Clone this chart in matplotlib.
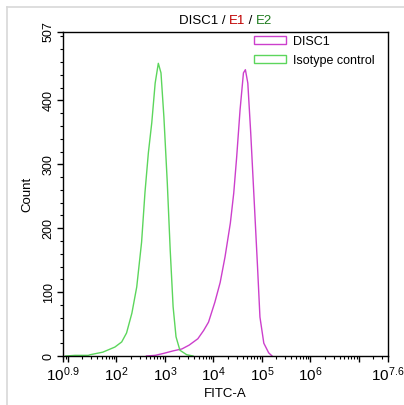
import numpy as np
import matplotlib
matplotlib.use("Agg")
import matplotlib.pyplot as plt
from matplotlib.lines import Line2D
from matplotlib.patches import Patch
from matplotlib.offsetbox import TextArea, HPacker, AnchoredOffsetbox
from matplotlib.ticker import FixedLocator, NullFormatter

plt.rcParams['font.family'] = ['Liberation Sans', 'DejaVu Sans']
plt.rcParams['mathtext.fontset'] = 'custom'
plt.rcParams['mathtext.rm'] = 'Liberation Sans'
plt.rcParams['mathtext.it'] = 'Liberation Sans'

# histogram traces (log10 of FITC-A, count)
iso_log = [0.95, 1.15, 1.42, 1.46, 1.72, 1.97, 2.11, 2.21, 2.32, 2.42, 2.52,
           2.59, 2.66, 2.73, 2.80, 2.865, 2.92, 2.98, 3.05, 3.11, 3.17, 3.23,
           3.31, 3.45, 3.58]
iso_count = [0, 1, 1, 2, 6, 14, 22, 36, 67, 108, 178,
             256, 318, 365, 427, 458, 443, 374, 271, 166, 77, 30,
             9, 2, 0]

disc_log = [2.62, 2.80, 2.97, 3.17, 3.35, 3.50, 3.68, 3.80, 3.90, 4.03, 4.14,
            4.24, 4.35, 4.42, 4.48, 4.55, 4.62, 4.66, 4.71, 4.77, 4.84, 4.91,
            4.96, 5.04, 5.14, 5.21]
disc_count = [0, 1, 4, 8, 11, 17, 27, 40, 53, 84, 115,
              155, 208, 255, 311, 385, 443, 448, 427, 349, 245, 140,
              61, 20, 5, 0]

x_tick_exp = [0.9, 2, 3, 4, 5, 6, 7.6]
x_tick_labels = ['0.9', '2', '3', '4', '5', '6', '7.6']
y_ticks = [0, 100, 200, 300, 400, 507]

magenta = '#CC3FCC'
green = '#5CD65C'

fig = plt.figure(figsize=(4.04, 4.05), dpi=100)
ax = fig.add_axes([63 / 404, 49 / 405, 325 / 404, 324 / 405])

ax.plot(10 ** np.array(disc_log), disc_count, color=magenta, lw=1.0)
ax.plot(10 ** np.array(iso_log), iso_count, color=green, lw=1.0)

ax.set_xscale('log')
ax.set_xlim(10 ** 0.9, 10 ** 7.6)
ax.set_ylim(0, 507)

major = [10 ** e for e in x_tick_exp] + [10, 1e7]
ax.xaxis.set_major_locator(FixedLocator(major))
ax.set_xticks(major, [r'$10^{%s}$' % s for s in x_tick_labels] + ['', ''])
minor = [m * 10 ** d for d in range(0, 8) for m in range(2, 10)
         if 10 ** 0.9 <= m * 10 ** d <= 10 ** 7.6]
ax.xaxis.set_minor_locator(FixedLocator(minor))
ax.xaxis.set_minor_formatter(NullFormatter())

ax.set_yticks(y_ticks)
ax.set_yticks(np.arange(0, 507, 20), minor=True)
ax.set_yticklabels([str(v) for v in y_ticks], rotation=90, va='center')

ax.tick_params(which='major', length=4, width=1, labelsize=9, direction='out')
ax.tick_params(which='minor', length=2, width=0.8, direction='out')
ax.tick_params(axis='x', labelsize=11, pad=3)
ax.tick_params(axis='y', pad=2)

for sp in ax.spines.values():
    sp.set_linewidth(1.0)
    sp.set_color('black')

ax.set_xlabel('FITC-A', fontsize=9.5, labelpad=3)
ax.set_ylabel('Count', fontsize=9.5, labelpad=7)

handles = [Patch(facecolor='none', edgecolor=magenta, lw=1.0),
           Patch(facecolor='none', edgecolor=green, lw=1.0)]
ax.legend(handles, ['DISC1', 'Isotype control'], loc='upper left',
          bbox_to_anchor=(0.575, 1.0), frameon=False, fontsize=9,
          handlelength=2.6, handleheight=0.6, handletextpad=0.55,
          labelspacing=0.55, borderpad=0.2, borderaxespad=0.1)

# multi-coloured title
parts = [('DISC1 / ', 'black'), ('E1', '#C00000'), (' / ', 'black'), ('E2', '#1E7B1E')]
box = HPacker(children=[TextArea(t, textprops=dict(color=c, fontsize=9.5))
                        for t, c in parts], pad=0, sep=0)
title = AnchoredOffsetbox(loc='lower center', child=box, pad=0, borderpad=0,
                          bbox_to_anchor=(0.5, 1.015), bbox_transform=ax.transAxes,
                          frameon=False)
ax.add_artist(title)

# light frame around the picture
fig.add_artist(Line2D([7 / 404, 7 / 404], [0, 1 - 7 / 405], color='#d8d8d8',
                      lw=1.2, transform=fig.transFigure))
fig.add_artist(Line2D([7 / 404, 1], [1 - 7 / 405, 1 - 7 / 405], color='#d8d8d8',
                      lw=1.2, transform=fig.transFigure))

fig.savefig('out.png', dpi=100)
